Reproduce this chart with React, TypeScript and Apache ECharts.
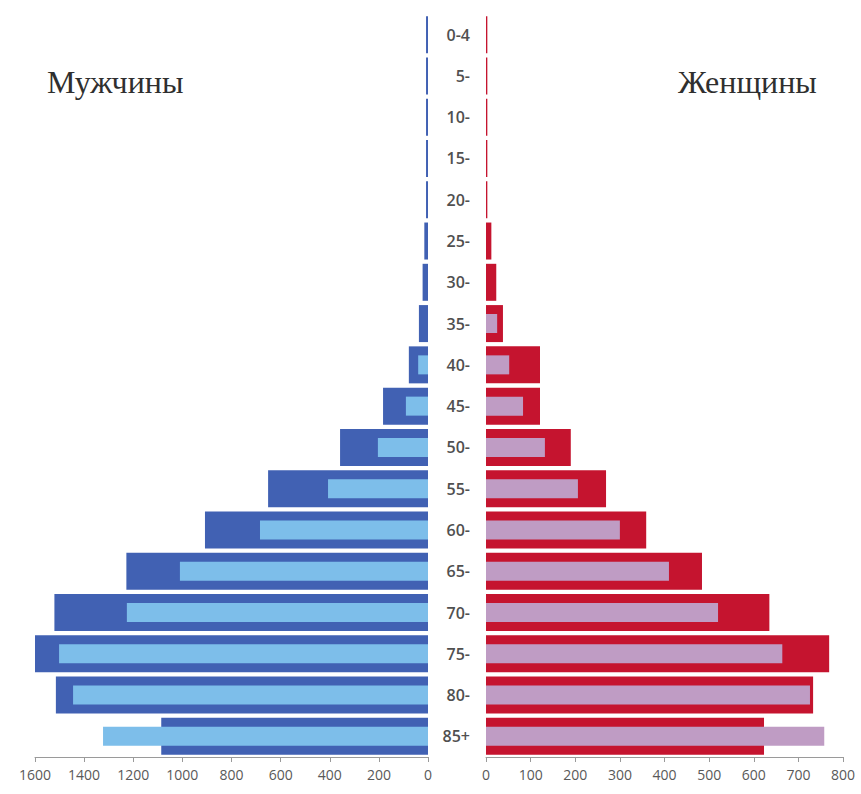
import React, { useEffect, useRef } from "react";
import * as echarts from "echarts";

// Age groups, youngest at the top
const ageGroups = ["0-4", "5-", "10-", "15-", "20-", "25-", "30-", "35-", "40-", "45-", "50-", "55-", "60-", "65-", "70-", "75-", "80-", "85+"];

// Men: wide (outer) bars and narrow (inner) bars
const menOuter = [8, 8, 8, 8, 8, 15, 22, 37, 78, 183, 358, 651, 908, 1228, 1521, 1600, 1515, 1086];
const menInner = [0, 0, 0, 0, 0, 0, 0, 0, 40, 90, 204, 407, 684, 1010, 1226, 1502, 1445, 1323];

// Women: wide (outer) bars and narrow (inner) bars
const womenOuter = [3, 3, 3, 3, 3, 12, 23, 38, 121, 121, 190, 269, 359, 484, 635, 769, 733, 623];
const womenInner = [0, 0, 0, 0, 0, 0, 0, 25, 52, 83, 132, 206, 300, 410, 520, 664, 726, 758];

const menTicksMax = 1600;
const womenTicksMax = 800;

const COLORS = {
  menDark: "#4161B3",
  menLight: "#7DBEEA",
  womenDark: "#C5142F",
  womenLight: "#BF9CC4",
  axis: "#9A9A9A",
  label: "#595959",
  category: "#505050",
};

export default function App() {
  const ref = useRef<HTMLDivElement>(null);

  useEffect(() => {
    if (!ref.current) return;
    const chart = echarts.init(ref.current, null, { renderer: "svg" });

    const gridTop = 14;
    const gridBottom = 37;

    const catAxis = (gridIndex: number, show: boolean) => ({
      type: "category" as const,
      gridIndex,
      data: ageGroups,
      inverse: true,
      axisLine: { show: false },
      axisTick: { show: false },
      axisLabel: show
        ? {
            show: true,
            margin: 16,
            align: "right" as const,
            fontFamily: "Open Sans",
            fontSize: 16,
            fontWeight: 600,
            color: COLORS.category,
          }
        : { show: false },
      splitLine: { show: false },
    });

    const valueAxisCommon = {
      type: "value" as const,
      min: 0,
      axisLine: { show: true, lineStyle: { color: COLORS.axis, width: 1 } },
      axisTick: { show: true, length: 5, lineStyle: { color: COLORS.axis } },
      axisLabel: {
        fontFamily: "Open Sans",
        fontSize: 14,
        color: COLORS.label,
        margin: 10,
        formatter: (v: number) => String(v),
      },
      splitLine: { show: false },
    };

    const titleStyle = {
      fontFamily: "Liberation Serif",
      fontSize: 32,
      fontWeight: "normal" as const,
      color: "#2f2f2f",
    };

    chart.setOption({
      animation: false,
      backgroundColor: "#ffffff",
      title: [
        { text: "Мужчины", left: 42, top: 61, textStyle: titleStyle },
        { text: "Женщины", left: 673, top: 61, textStyle: titleStyle },
      ],
      grid: [
        { left: 35, right: 433, top: gridTop, bottom: gridBottom },
        { left: 486, right: 18, top: gridTop, bottom: gridBottom },
      ],
      xAxis: [
        { ...valueAxisCommon, gridIndex: 0, inverse: true, max: menTicksMax, interval: 200 },
        { ...valueAxisCommon, gridIndex: 1, max: womenTicksMax, interval: 100 },
      ],
      yAxis: [
        { ...catAxis(0, false), position: "right" },
        { ...catAxis(0, false), position: "right" },
        { ...catAxis(1, true), position: "left" },
        { ...catAxis(1, false), position: "left" },
      ],
      series: [
        {
          name: "Мужчины",
          type: "bar",
          xAxisIndex: 0,
          yAxisIndex: 0,
          data: menOuter,
          barWidth: 37,
          itemStyle: { color: COLORS.menDark },
        },
        {
          name: "Мужчины (внутр.)",
          type: "bar",
          xAxisIndex: 0,
          yAxisIndex: 1,
          data: menInner,
          barWidth: 19,
          itemStyle: { color: COLORS.menLight },
        },
        {
          name: "Женщины",
          type: "bar",
          xAxisIndex: 1,
          yAxisIndex: 2,
          data: womenOuter,
          barWidth: 37,
          itemStyle: { color: COLORS.womenDark },
        },
        {
          name: "Женщины (внутр.)",
          type: "bar",
          xAxisIndex: 1,
          yAxisIndex: 3,
          data: womenInner,
          barWidth: 19,
          itemStyle: { color: COLORS.womenLight },
        },
      ],
    });

    return () => chart.dispose();
  }, []);

  return (
    <div
      ref={ref}
      style={{ position: "fixed", left: 0, top: 0, width: 861, height: 794, background: "#fff" }}
    />
  );
}
